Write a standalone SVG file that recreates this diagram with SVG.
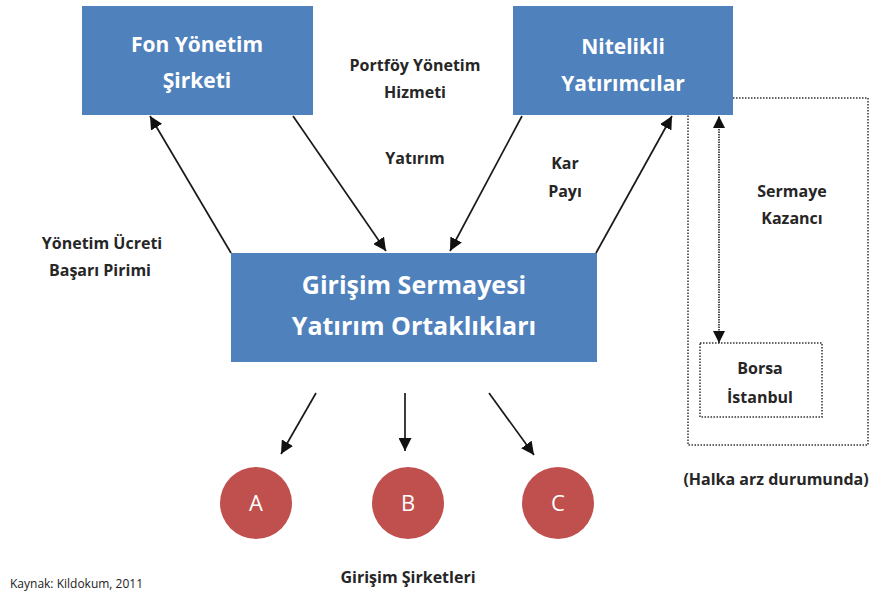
<svg xmlns="http://www.w3.org/2000/svg" width="880" height="593" viewBox="0 0 880 593">
<style>
.box{fill:#4F81BD;}
.bt{font-family:"Open Sans","Liberation Sans",sans-serif;font-weight:bold;fill:#fff;text-anchor:middle;}
.lb{font-family:"Open Sans","Liberation Sans",sans-serif;font-weight:bold;fill:#262626;text-anchor:middle;font-size:16px;}
.ln{stroke:#1a1a1a;stroke-width:1.7;fill:none;marker-end:url(#ah);}
.dot{stroke:#333;stroke-width:1.5;stroke-dasharray:1.5 1.5;fill:none;}
.circ{fill:#C0504D;}
.ct{font-family:"Open Sans","Liberation Sans",sans-serif;fill:#fff;text-anchor:middle;font-size:22px;}
</style>
<defs>
<marker id="ah" viewBox="0 0 10 10" refX="10" refY="5" markerWidth="13" markerHeight="13" markerUnits="userSpaceOnUse" orient="auto">
<path d="M0,0 L10,5 L0,10 z" fill="#111"/>
</marker>
<marker id="ahs" viewBox="0 0 10 10" refX="10" refY="5" markerWidth="12" markerHeight="12" markerUnits="userSpaceOnUse" orient="auto-start-reverse">
<path d="M0,0 L10,5 L0,10 z" fill="#111"/>
</marker>
</defs>
<rect width="880" height="593" fill="#fff"/>
<g id="istanbul-frame">
<rect class="dot" x="688" y="98" width="180" height="347"/>
</g>
<g id="fon">
<rect class="box" x="82" y="6" width="231" height="109"/>
<text class="bt" x="197" y="52" font-size="21">Fon Yönetim</text>
<text class="bt" x="197" y="88" font-size="21">Şirketi</text>
</g>
<g id="nitelikli">
<rect class="box" x="513" y="6" width="220" height="109"/>
<text class="bt" x="623" y="54" font-size="21">Nitelikli</text>
<text class="bt" x="623" y="91" font-size="21">Yatırımcılar</text>
</g>
<g id="girisim">
<rect class="box" x="231" y="253" width="366" height="109"/>
<text class="bt" x="414" y="294" font-size="25">Girişim Sermayesi</text>
<text class="bt" x="414" y="335" font-size="25">Yatırım Ortaklıkları</text>
</g>
<g id="borsa">
<rect class="dot" x="700" y="343" width="122" height="74"/>
<text class="lb" x="760" y="374">Borsa</text>
<text class="lb" x="760" y="403">İstanbul</text>
</g>
<g id="a"><circle class="circ" cx="256" cy="503" r="36"/><text class="ct" x="256" y="511">A</text></g>
<g id="b"><circle class="circ" cx="408" cy="503" r="36"/><text class="ct" x="408" y="511">B</text></g>
<g id="c"><circle class="circ" cx="558" cy="503" r="36"/><text class="ct" x="558" y="511">C</text></g>
<g id="connectors">
<line class="ln" x1="231" y1="253" x2="150" y2="116"/>
<line class="ln" x1="293" y1="116" x2="386" y2="251"/>
<line class="ln" x1="522" y1="116" x2="450" y2="251"/>
<line class="ln" x1="596" y1="253" x2="672" y2="116"/>
<line class="ln" x1="316" y1="393" x2="281" y2="454"/>
<line class="ln" x1="405" y1="393" x2="405" y2="451"/>
<line class="ln" x1="489" y1="393" x2="534" y2="455"/>
<line x1="719" y1="343" x2="719" y2="116" stroke="#1a1a1a" stroke-width="1.5" stroke-dasharray="1.5 1" marker-end="url(#ahs)" marker-start="url(#ahs)"/>
</g>
<g id="labels">
<text class="lb" x="415" y="71">Portföy Yönetim</text>
<text class="lb" x="415" y="98">Hizmeti</text>
<text class="lb" x="415" y="164">Yatırım</text>
<text class="lb" x="565" y="169">Kar</text>
<text class="lb" x="565" y="197">Payı</text>
<text class="lb" x="102" y="249">Yönetim Ücreti</text>
<text class="lb" x="100" y="276">Başarı Pirimi</text>
<text class="lb" x="792" y="197">Sermaye</text>
<text class="lb" x="792" y="224">Kazancı</text>
<text class="lb" x="776" y="485">(Halka arz durumunda)</text>
<text class="lb" x="408" y="583">Girişim Şirketleri</text>
<text x="10" y="588" font-family="'Open Sans','Liberation Sans',sans-serif" font-size="12" fill="#222">Kaynak: Kildokum, 2011</text>
</g>
</svg>
